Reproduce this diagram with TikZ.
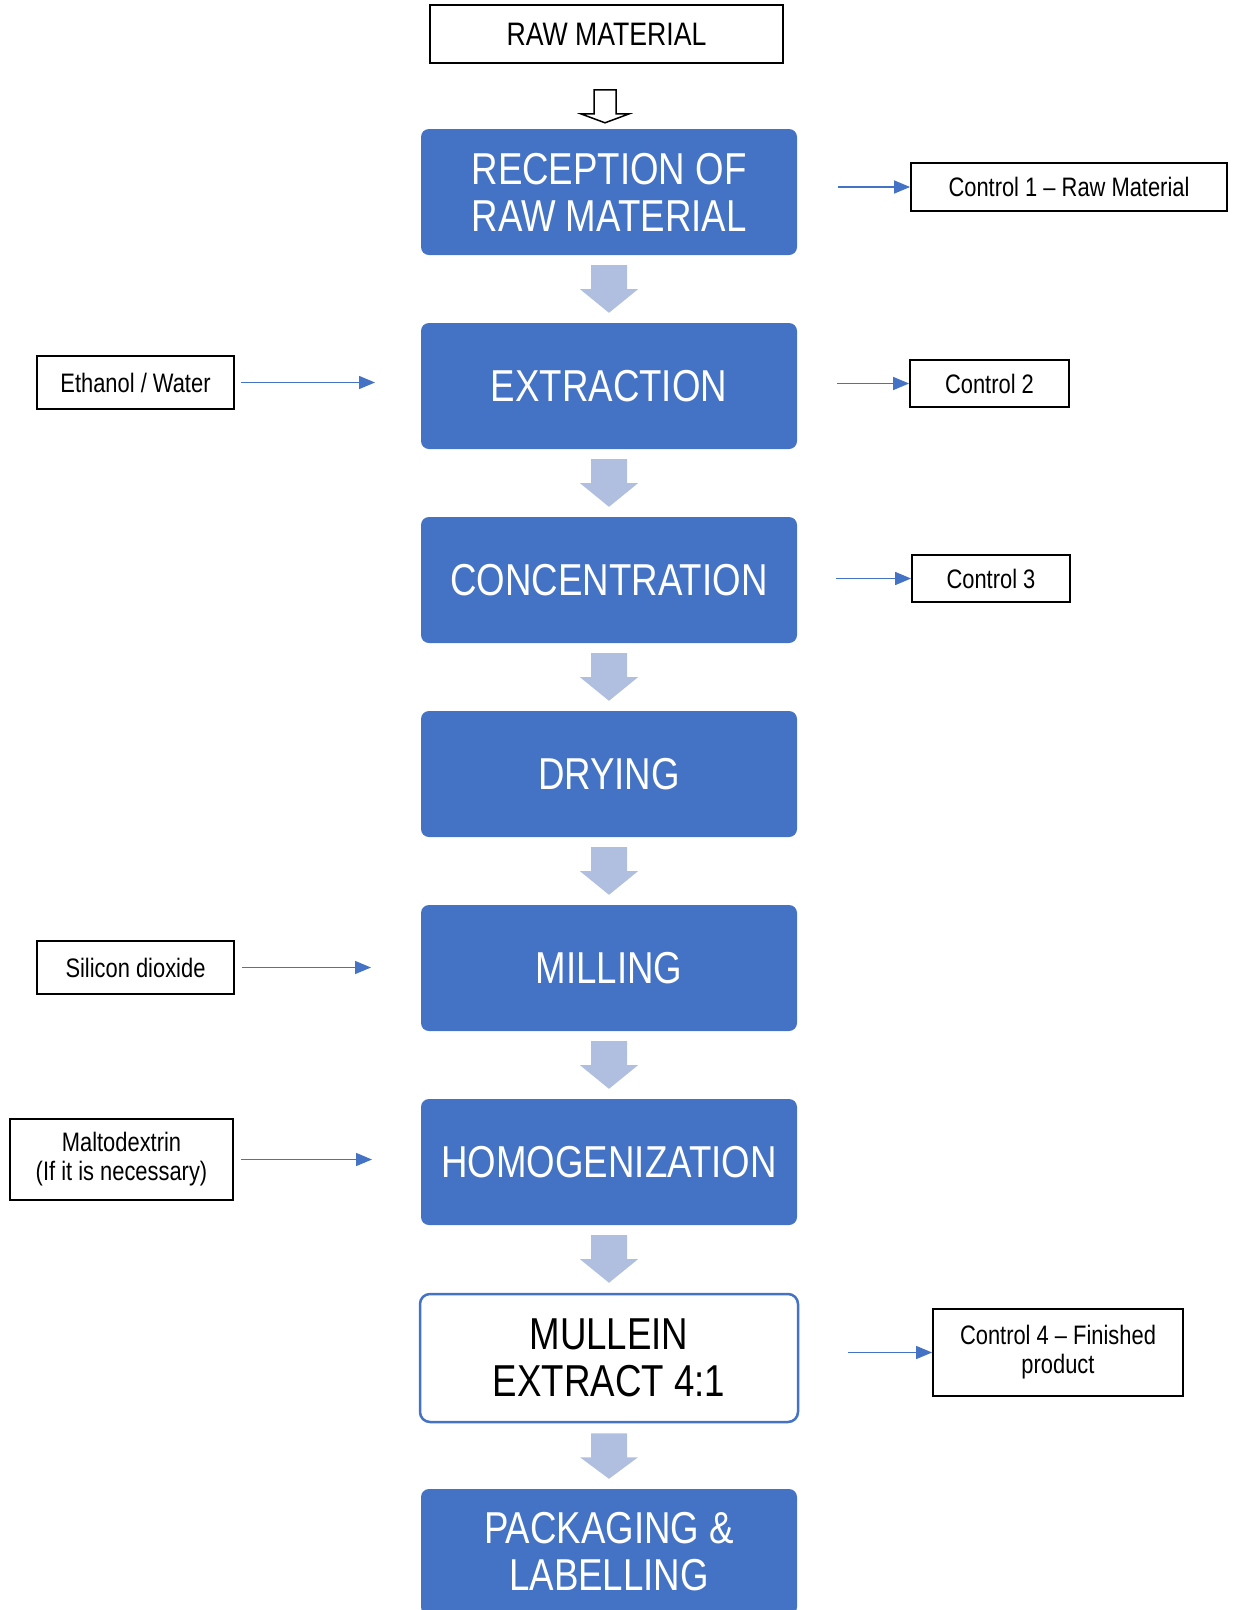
\documentclass[tikz,border=0pt]{standalone}
\usepackage{fontspec}
\setmainfont[FakeStretch=0.82]{Liberation Sans}
\usetikzlibrary{arrows.meta,calc}

\definecolor{stageblue}{RGB}{68,114,196}
\definecolor{flowblue}{RGB}{176,190,224}

\tikzset{
  stage/.style={rectangle, rounded corners=8pt, fill=stageblue, text=white,
    minimum width=376pt, minimum height=126pt, align=center,
    font=\fontsize{44.7}{47}\selectfont},
  product/.style={stage, fill=white, draw=stageblue, line width=2.5pt, text=black,
    minimum width=378pt, minimum height=128pt, rounded corners=10pt},
  note/.style={rectangle, draw=black, line width=1.8pt, align=center, inner sep=0pt,
    font=\fontsize{26.7}{29}\selectfont},
  feed/.style={draw=stageblue, line width=1.5pt, -{Triangle[length=16pt,width=13pt]}},
}

\newcommand{\flowarrow}[2]{%
  \fill[flowblue] ($(#1.south)+(-18,10)$) -- ($(#1.south)+(18,10)$)
    -- ($(#1.south)+(18,34)$) -- ($(#1.south)+(29,34)$) -- ($(#2.north)+(0,-10)$)
    -- ($(#1.south)+(-29,34)$) -- ($(#1.south)+(-18,34)$) -- cycle;}

\begin{document}
\begin{tikzpicture}[x=1pt, y=-1pt]
  \useasboundingbox (0,0) rectangle (1238,1610);
  \clip (0,0) rectangle (1238,1610);

  \node [note, minimum width=353pt, minimum height=58pt, font=\fontsize{32.5}{34}\selectfont] (raw) at (606.5,34) {RAW MATERIAL};

  \node [stage] (reception) at (609,192) {RECEPTION OF\\RAW MATERIAL};
  \node [stage] (extraction) at (609,386) {EXTRACTION};
  \node [stage] (concentration) at (609,580) {CONCENTRATION};
  \node [stage] (drying) at (609,774) {DRYING};
  \node [stage] (milling) at (609,968) {MILLING};
  \node [stage] (homogenization) at (609,1162) {HOMOGENIZATION};
  \node [product] (extract) at (609,1358) {MULLEIN\\EXTRACT 4:1};
  \node [stage] (packaging) at (609,1552) {PACKAGING \&\\LABELLING};

  % hollow arrow under the raw material
  \draw [fill=white, line width=1.5pt] ($(raw.south)+(-12.5,26)$) -- ($(raw.south)+(9.5,26)$)
    -- ($(raw.south)+(9.5,50)$) -- ($(raw.south)+(22.5,50)$) -- ($(reception.north)+(-4,-6)$)
    -- ($(raw.south)+(-25.5,50)$) -- ($(raw.south)+(-12.5,50)$) -- cycle;

  \flowarrow{reception}{extraction}
  \flowarrow{extraction}{concentration}
  \flowarrow{concentration}{drying}
  \flowarrow{drying}{milling}
  \flowarrow{milling}{homogenization}
  \flowarrow{homogenization}{extract}
  \flowarrow{extract}{packaging}

  % controls
  \node [note, minimum width=316pt, minimum height=48pt] (control1) at (1069,187) {Control 1 – Raw Material};
  \node [note, minimum width=159pt, minimum height=47pt] (control2) at (989.5,383.5) {Control 2};
  \node [note, minimum width=158pt, minimum height=47pt] (control3) at (991,578.5) {Control 3};
  \node [note, minimum width=250pt, minimum height=87pt] (control4) at (1058,1352.5) {Control 4 – Finished\\product};
  \coordinate (c1) at (838,187);
  \coordinate (c2) at (837,383.5);
  \coordinate (c3) at (836,578.5);
  \coordinate (c4) at (848,1352.5);
  \draw [feed] (c1) -- (control1);
  \draw [feed] (c2) -- (control2);
  \draw [feed] (c3) -- (control3);
  \draw [feed] (c4) -- (control4);

  % inputs
  \node [note, minimum width=197pt, minimum height=53pt] (ethanol) at (135.5,382.5) {Ethanol / Water};
  \node [note, minimum width=197pt, minimum height=53pt] (silica) at (135.5,967.5) {Silicon dioxide};
  \node [note, minimum width=223pt, minimum height=81pt] (malto) at (121.5,1159.5) {Maltodextrin\\(If it is necessary)};
  \coordinate (e1) at (375,382.5);
  \coordinate (e2) at (371,967.5);
  \coordinate (e3) at (372,1159.5);
  \draw [feed] ([xshift=6pt]ethanol.east) -- (e1);
  \draw [feed] ([xshift=7pt]silica.east) -- (e2);
  \draw [feed] ([xshift=7pt]malto.east) -- (e3);
\end{tikzpicture}
\end{document}
